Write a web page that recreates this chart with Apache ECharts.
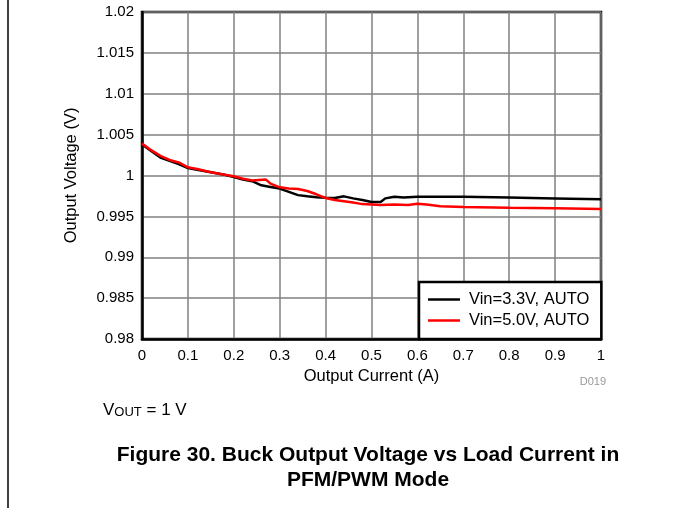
<!DOCTYPE html>
<html>
<head>
<meta charset="utf-8">
<script src="https://cdn.jsdelivr.net/npm/echarts@6/dist/echarts.min.js"></script>
<style>
  html, body { margin: 0; padding: 0; background: #fff; }
  #chart { width: 673px; height: 508px; }
</style>
</head>
<body>
<div id="chart"></div>
<script>
// Load current (A) sample points
const current33 = [0, 0.02, 0.04, 0.06, 0.08, 0.10, 0.12, 0.15, 0.18, 0.20, 0.22, 0.24, 0.26, 0.28, 0.30, 0.32, 0.34, 0.36, 0.38, 0.40, 0.42, 0.44, 0.46, 0.48, 0.50, 0.52, 0.53, 0.55, 0.57, 0.60, 0.70, 0.80, 0.90, 1.0];
// Output voltage (V), Vin = 3.3 V
const vout33 = [1.0038, 1.0030, 1.0022, 1.0018, 1.0014, 1.0009, 1.0007, 1.0004, 1.0001, 0.9998, 0.9995, 0.9993, 0.9988, 0.9986, 0.9984, 0.9980, 0.9976, 0.99745, 0.99735, 0.99728, 0.99725, 0.99745, 0.9972, 0.9970, 0.99675, 0.99675, 0.9972, 0.9974, 0.9973, 0.9974, 0.9974, 0.9973, 0.9972, 0.9971];

const current50 = [0, 0.02, 0.04, 0.06, 0.08, 0.10, 0.12, 0.15, 0.18, 0.20, 0.22, 0.24, 0.27, 0.28, 0.30, 0.32, 0.34, 0.36, 0.38, 0.40, 0.42, 0.44, 0.46, 0.48, 0.50, 0.52, 0.55, 0.58, 0.60, 0.62, 0.65, 0.70, 0.80, 0.90, 1.0];
// Output voltage (V), Vin = 5.0 V
const vout50 = [1.0039, 1.0031, 1.0024, 1.0019, 1.0016, 1.0010, 1.0008, 1.0004, 1.0001, 0.9999, 0.9996, 0.9994, 0.9995, 0.9990, 0.99855, 0.9984, 0.99835, 0.9981, 0.9977, 0.99725, 0.9970, 0.99685, 0.9967, 0.9965, 0.99645, 0.9964, 0.99645, 0.9964, 0.99655, 0.99645, 0.99625, 0.99615, 0.99605, 0.9960, 0.9959];

const seriesNames = ['Vin=3.3V, AUTO', 'Vin=5.0V, AUTO'];
const xTickLabels = ['0', '0.1', '0.2', '0.3', '0.4', '0.5', '0.6', '0.7', '0.8', '0.9', '1'];
const yTickLabels = ['0.98', '0.985', '0.99', '0.995', '1', '1.005', '1.01', '1.015', '1.02'];

const pairs = (xs, ys) => xs.map((x, i) => [x, ys[i]]);
const FONT = 'Liberation Sans, Arial, sans-serif';

const chart = echarts.init(document.getElementById('chart'), null, { renderer: 'canvas' });
chart.setOption({
  animation: false,
  backgroundColor: '#fff',
  grid: {
    left: 142, top: 12, width: 459, height: 327,
    show: true, borderColor: '#000', borderWidth: 2.5, backgroundColor: 'transparent'
  },
  xAxis: {
    type: 'value', min: 0, max: 1, interval: 0.1,
    name: 'Output Current (A)', nameLocation: 'middle', nameGap: 28,
    nameTextStyle: { fontFamily: FONT, fontSize: 16.5, color: '#000' },
    axisLine: { show: true, lineStyle: { color: '#000', width: 2.5 } },
    axisTick: { show: false },
    axisLabel: {
      fontFamily: FONT, fontSize: 15, color: '#000', margin: 9,
      formatter: (v) => xTickLabels[Math.round(v * 10)]
    },
    splitLine: { show: true, lineStyle: { color: '#808080', width: 1.5 } }
  },
  yAxis: {
    type: 'value', min: 0.98, max: 1.02, interval: 0.005,
    name: 'Output Voltage (V)', nameLocation: 'middle', nameGap: 62,
    nameTextStyle: { fontFamily: FONT, fontSize: 16.5, color: '#000' },
    axisLine: { show: true, lineStyle: { color: '#000', width: 2.5 } },
    axisTick: { show: false },
    axisLabel: {
      fontFamily: FONT, fontSize: 15, color: '#000', margin: 8,
      formatter: (v) => yTickLabels[Math.round((v - 0.98) / 0.005)]
    },
    splitLine: { show: true, lineStyle: { color: '#808080', width: 1.5 } }
  },
  legend: {
    orient: 'vertical', left: 419, top: 282,
    backgroundColor: '#fff', borderColor: '#000', borderWidth: 2.5,
    padding: [9, 12, 10, 9], itemGap: 4,
    itemWidth: 32, itemHeight: 2.5, icon: 'rect',
    textStyle: { fontFamily: FONT, fontSize: 16.5, color: '#000', padding: [0, 0, 0, 4] },
    data: seriesNames
  },
  series: [
    {
      name: seriesNames[0], type: 'line', data: pairs(current33, vout33),
      showSymbol: false, symbol: 'none', smooth: false,
      lineStyle: { color: '#000', width: 2.5 }, itemStyle: { color: '#000' }
    },
    {
      name: seriesNames[1], type: 'line', data: pairs(current50, vout50),
      showSymbol: false, symbol: 'none', smooth: false,
      lineStyle: { color: '#ff0000', width: 2.5 }, itemStyle: { color: '#ff0000' }
    }
  ],
  graphic: [
    { type: 'line', shape: { x1: 8, y1: 0, x2: 8, y2: 508 }, style: { stroke: '#000', lineWidth: 1.5 } },
    { type: 'text', x: 606, y: 376,
      style: { text: 'D019', fontFamily: FONT, fontSize: 11, fill: '#999', align: 'right' } },
    { type: 'text', x: 103, y: 399,
      style: {
        text: '{v|V}{s|OUT}{v| = 1 V}',
        rich: {
          v: { fontFamily: FONT, fontSize: 17, fill: '#000', verticalAlign: 'bottom' },
          s: { fontFamily: FONT, fontSize: 13, fill: '#000', padding: [7, 0, 0, 0], verticalAlign: 'bottom' }
        }
      } },
    { type: 'text', x: 368, y: 443,
      style: {
        text: 'Figure 30. Buck Output Voltage vs Load Current in\nPFM/PWM Mode',
        fontFamily: FONT, fontSize: 21, fontWeight: 'bold', fill: '#000',
        align: 'center', lineHeight: 25
      } }
  ]
});
</script>
</body>
</html>
